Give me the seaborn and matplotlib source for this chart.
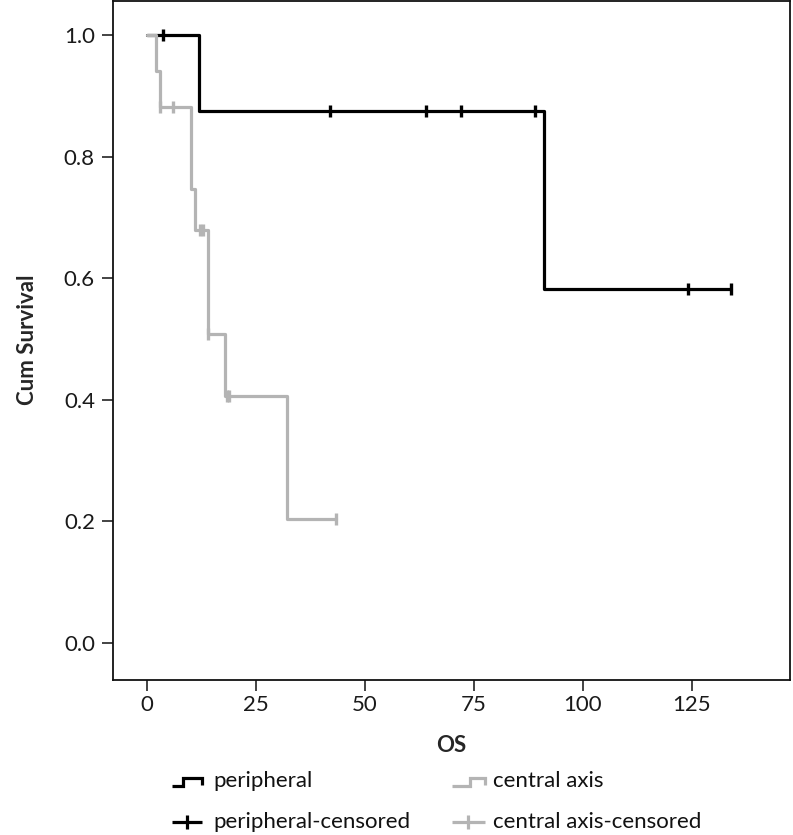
import matplotlib
matplotlib.use("Agg")
import matplotlib.pyplot as plt
from matplotlib.lines import Line2D
import seaborn as sns
import pandas as pd

# ---- data ----
groups = ["peripheral", "central axis"]
periph_time = [0, 12, 91, 134]
periph_surv = [1.0, 0.875, 0.583, 0.583]
periph_cens_time = [3.7, 42, 64, 72, 89, 124, 134]
periph_cens_surv = [1.0, 0.875, 0.875, 0.875, 0.875, 0.583, 0.583]

central_time = [0, 2, 3, 10, 11, 14, 18, 32, 43.3]
central_surv = [1.0, 0.941, 0.882, 0.747, 0.679, 0.509, 0.407, 0.204, 0.204]
central_cens_time = [3, 6, 12.2, 12.9, 14, 18.3, 18.9, 43.3]
central_cens_surv = [0.882, 0.882, 0.679, 0.679, 0.509, 0.407, 0.407, 0.204]

xticks = [0, 25, 50, 75, 100, 125]
yticks = [0.0, 0.2, 0.4, 0.6, 0.8, 1.0]
colors = {"peripheral": "#000000", "central axis": "#b4b4b4"}

sns.set_style("ticks")
plt.rcParams["font.family"] = ["Lato", "DejaVu Sans"]

W, H = 793, 835
fig = plt.figure(figsize=(W / 100, H / 100), dpi=100)
L, R, T, B = 113, 790, 1, 680
ax = fig.add_axes([L / W, 1 - B / H, (R - L) / W, (B - T) / H])

lw = 2.3
curves = [
    ("peripheral", periph_time, periph_surv, periph_cens_time, periph_cens_surv, 2),
    ("central axis", central_time, central_surv, central_cens_time, central_cens_surv, 3),
]
for name, t, s, ct, cs, z in curves:
    df = pd.DataFrame({"t": t, "s": s})
    sns.lineplot(data=df, x="t", y="s", ax=ax, color=colors[name], lw=lw,
                 drawstyle="steps-post", estimator=None, sort=False, zorder=z)
    cdf = pd.DataFrame({"t": ct, "s": cs})
    sns.scatterplot(data=cdf, x="t", y="s", ax=ax, marker="|", s=80,
                    color=colors[name], linewidth=2.4, zorder=z + 0.5)

ax.set_xlim(-7.8, 147.5)
ax.set_ylim(-0.061, 1.056)
ax.set_xticks(xticks)
ax.set_xticklabels([str(v) for v in xticks])
ax.set_yticks(yticks)
ax.set_yticklabels([f"{v:.1f}" for v in yticks])
for sp in ax.spines.values():
    sp.set_visible(True)
    sp.set_linewidth(1.3)
    sp.set_color("#111111")
ax.tick_params(axis="both", length=8, width=1.1, color="#111111",
               labelsize=16, labelcolor="#1a1a1a")
ax.tick_params(axis="x", pad=3)
ax.tick_params(axis="y", pad=5)
ax.set_xlabel("OS", fontsize=16, fontweight="bold")
ax.set_ylabel("Cum Survival", fontsize=16, fontweight="bold")
ax.xaxis.set_label_coords((451 - L) / (R - L), (B - 745) / (B - T), transform=ax.transAxes)
ax.yaxis.set_label_coords((27 - L) / (R - L), (B - 340) / (B - T), transform=ax.transAxes)
ax.xaxis.label.set_va("center")
ax.yaxis.label.set_va("center")


def P(x, y):
    return x / W, 1 - y / H


def pline(xs, ys, color):
    fx = [x / W for x in xs]
    fy = [1 - y / H for y in ys]
    fig.add_artist(Line2D(fx, fy, color=color, lw=2.3, transform=fig.transFigure,
                          solid_joinstyle="miter", solid_capstyle="butt"))


# legend: step icons
pline([172, 183, 183, 202, 202], [786, 786, 778, 778, 785], colors["peripheral"])
pline([452, 470, 470, 485, 485], [786, 786, 778, 778, 785], colors["central axis"])
# legend: censored icons
pline([172, 202], [822, 822], colors["peripheral"])
pline([187, 187], [815, 829], colors["peripheral"])
pline([452, 485], [822, 822], colors["central axis"])
pline([468, 468], [815, 829], colors["central axis"])

for (x, y, txt) in [(213, 781, "peripheral"), (493, 781, "central axis"),
                    (213, 822, "peripheral-censored"), (493, 822, "central axis-censored")]:
    fx, fy = P(x, y)
    fig.text(fx, fy, txt, fontsize=16, va="center", ha="left", color="#111111")

fig.savefig("out.png", dpi=100)
